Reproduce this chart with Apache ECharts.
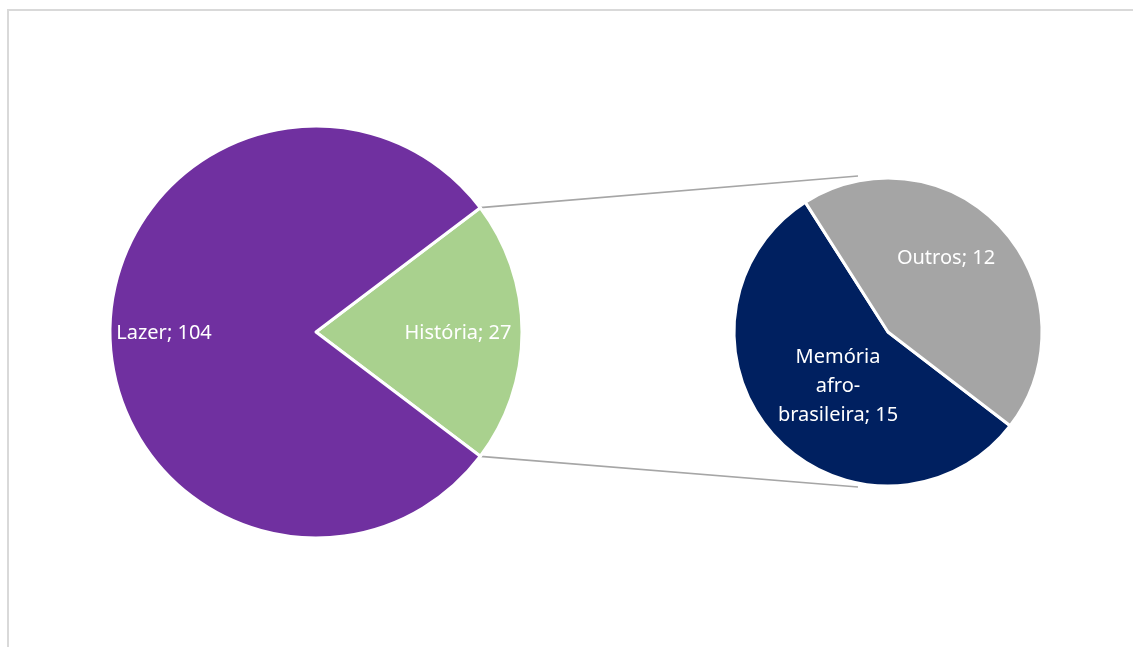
<!DOCTYPE html>
<html>
<head>
<meta charset="utf-8">
<script src="https://cdn.jsdelivr.net/npm/echarts@6/dist/echarts.min.js"></script>
<style>
  html, body { margin: 0; padding: 0; background: #ffffff; }
  #chart { width: 1133px; height: 647px; }
</style>
</head>
<body>
<div id="chart"></div>
<script>
// Main pie: categories and counts
const mainNames = ['História', 'Lazer'];
const mainValues = [27, 104];
const mainColors = ['#A9D18E', '#7030A0'];

// Secondary pie: breakdown of "História"
const subNames = ['Memória\nafro-\nbrasileira', 'Outros'];
const subValues = [15, 12];
const subColors = ['#002060', '#A5A5A5'];

// Geometry of the two pies (pixels)
const MAIN = { cx: 316, cy: 332, r: 206 };
const SUB = { cx: 888, cy: 332, r: 154 };
const SUB_START = -37.5;

// Label nudges from the default "inside" spot
const mainLabelShift = [{ dx: 36, dy: 1 }, { dx: -46, dy: 1 }];
const subLabelShift = [{ dx: 9, dy: 0 }, { dx: -1, dy: -20 }];

const FONT = '"Noto Sans", "Liberation Sans", sans-serif';

const mainTotal = mainValues.reduce((a, b) => a + b, 0);
// First slice (História) centred on the right-hand side
const mainStart = 180 * mainValues[0] / mainTotal;
const halfRad = mainStart * Math.PI / 180;

function toData(names, values, colors) {
  return names.map((n, i) => ({ name: n, value: values[i], itemStyle: { color: colors[i] } }));
}

const labelStyle = {
  show: true,
  position: 'inside',
  formatter: '{b}; {c}',
  color: '#ffffff',
  fontFamily: FONT,
  fontSize: 20,
  lineHeight: 29,
  align: 'center'
};

// Connector lines between the split slice and the secondary pie
const topStart = [MAIN.cx + MAIN.r * Math.cos(halfRad), MAIN.cy - MAIN.r * Math.sin(halfRad)];
const botStart = [MAIN.cx + MAIN.r * Math.cos(halfRad), MAIN.cy + MAIN.r * Math.sin(halfRad)];
const topEnd = [SUB.cx - 30, SUB.cy - SUB.r - 2];
const botEnd = [SUB.cx - 30, SUB.cy + SUB.r + 1];

const chart = echarts.init(document.getElementById('chart'), null, { renderer: 'canvas' });
chart.setOption({
  backgroundColor: '#ffffff',
  animation: false,
  graphic: [
    {
      type: 'rect', z: 0, silent: true,
      shape: { x: 8, y: 10, width: 1300, height: 1000 },
      style: { fill: 'none', stroke: '#d9d9d9', lineWidth: 2 }
    },
    {
      type: 'line', z: 0, silent: true,
      shape: { x1: topStart[0], y1: topStart[1], x2: topEnd[0], y2: topEnd[1] },
      style: { stroke: '#a6a6a6', lineWidth: 1.75 }
    },
    {
      type: 'line', z: 0, silent: true,
      shape: { x1: botStart[0], y1: botStart[1], x2: botEnd[0], y2: botEnd[1] },
      style: { stroke: '#a6a6a6', lineWidth: 1.75 }
    }
  ],
  series: [
    {
      type: 'pie',
      center: [MAIN.cx, MAIN.cy],
      radius: [0, MAIN.r],
      startAngle: mainStart,
      clockwise: true,
      avoidLabelOverlap: false,
      silent: true,
      itemStyle: { borderColor: '#ffffff', borderWidth: 3 },
      label: labelStyle,
      labelLine: { show: false },
      labelLayout: (p) => mainLabelShift[p.dataIndex],
      emphasis: { disabled: true },
      data: toData(mainNames, mainValues, mainColors)
    },
    {
      type: 'pie',
      center: [SUB.cx, SUB.cy],
      radius: [0, SUB.r],
      startAngle: SUB_START,
      clockwise: true,
      avoidLabelOverlap: false,
      silent: true,
      itemStyle: { borderColor: '#ffffff', borderWidth: 3 },
      label: labelStyle,
      labelLine: { show: false },
      labelLayout: (p) => subLabelShift[p.dataIndex],
      emphasis: { disabled: true },
      data: toData(subNames, subValues, subColors)
    }
  ]
});
</script>
</body>
</html>
